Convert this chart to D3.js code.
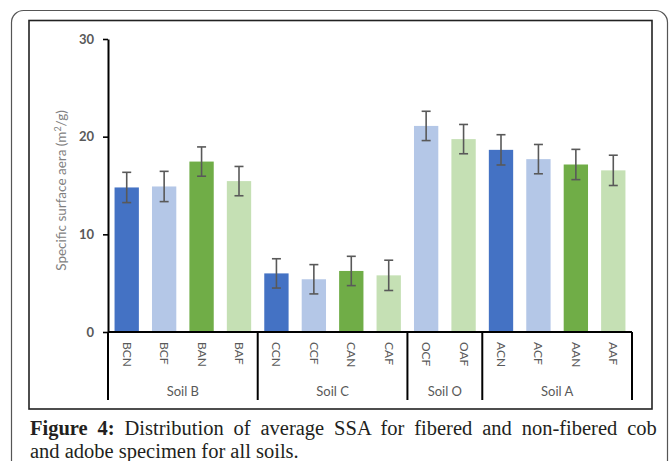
<!DOCTYPE html>
<html>
<head>
<meta charset="utf-8">
<script src="https://cdn.jsdelivr.net/npm/d3@7/dist/d3.min.js"></script>
<style>
  html, body { margin: 0; padding: 0; background: #fff; }
  svg { display: block; }
</style>
</head>
<body>
<svg id="chart" width="669" height="461"></svg>
<script>
// Specimen codes: soil letter + C/A (cob / adobe) + N/F (non-fibered / fibered)
const categories = ["BCN", "BCF", "BAN", "BAF", "CCN", "CCF", "CAN", "CAF",
                    "OCF", "OAF", "ACN", "ACF", "AAN", "AAF"];
const ssaMeans  = [14.8, 14.9, 17.45, 15.45, 6.0, 5.4, 6.25, 5.8,
                   21.1, 19.75, 18.65, 17.7, 17.15, 16.55];
const ssaErrors = [1.55, 1.55, 1.5, 1.5, 1.5, 1.5, 1.5, 1.55,
                   1.5, 1.5, 1.55, 1.5, 1.55, 1.55];
const groupNames = ["Soil B", "Soil C", "Soil O", "Soil A"];
const groupSizes = [4, 4, 2, 4];
const yTicks = [0, 10, 20, 30];

const typeColors = {
  CN: "#4472c4",
  CF: "#b4c7e7",
  AN: "#70ad47",
  AF: "#c5e0b4"
};

const svg = d3.select("#chart");

// Outer rounded frame and inner figure box
svg.append("rect")
  .attr("x", 11.5).attr("y", 10.5)
  .attr("width", 656).attr("height", 500)
  .attr("rx", 12).attr("ry", 12)
  .attr("fill", "none").attr("stroke", "#555").attr("stroke-width", 1.2);

svg.append("rect")
  .attr("x", 29).attr("y", 20.5)
  .attr("width", 623).attr("height", 388.5)
  .attr("fill", "#fff").attr("stroke", "#222").attr("stroke-width", 1.6);

const plot = { left: 108, right: 632, top: 39, bottom: 332 };

const x = d3.scaleBand()
  .domain(categories)
  .range([plot.left, plot.right])
  .paddingInner(0.35)
  .paddingOuter(0.175);

const y = d3.scaleLinear()
  .domain([0, 30])
  .range([plot.bottom, plot.top]);

const chartFont = "Lato, 'Open Sans', 'Liberation Sans', sans-serif";

// Bars
const rows = categories.map((c, i) => ({ cat: c, v: ssaMeans[i], e: ssaErrors[i] }));

svg.append("g").selectAll("rect")
  .data(rows)
  .join("rect")
  .attr("x", d => x(d.cat))
  .attr("y", d => y(d.v))
  .attr("width", x.bandwidth())
  .attr("height", d => y(0) - y(d.v))
  .attr("fill", d => typeColors[d.cat.slice(1)]);

// Error bars
const capHalf = 4.5;
const err = svg.append("g")
  .attr("stroke", "#595959")
  .attr("stroke-width", 1.6)
  .attr("fill", "none");

rows.forEach(d => {
  const cx = x(d.cat) + x.bandwidth() / 2;
  const y1 = y(d.v + d.e), y2 = y(d.v - d.e);
  err.append("line").attr("x1", cx).attr("x2", cx).attr("y1", y1).attr("y2", y2);
  err.append("line").attr("x1", cx - capHalf).attr("x2", cx + capHalf).attr("y1", y1).attr("y2", y1);
  err.append("line").attr("x1", cx - capHalf).attr("x2", cx + capHalf).attr("y1", y2).attr("y2", y2);
});

// Y axis
const yAxis = d3.axisLeft(y)
  .tickValues(yTicks)
  .tickSize(5)
  .tickSizeOuter(0)
  .tickPadding(9);

const yg = svg.append("g")
  .attr("transform", `translate(${plot.left},0)`)
  .call(yAxis);
yg.select(".domain").attr("stroke", "#000").attr("stroke-width", 2);
yg.selectAll(".tick line").attr("stroke", "#000").attr("stroke-width", 1.6);
yg.selectAll(".tick text")
  .attr("fill", "#595959")
  .style("font-family", chartFont)
  .style("font-size", "13px")
  .style("font-weight", "bold");

// Y axis title
svg.append("text")
  .attr("transform", `translate(66,${(plot.top + plot.bottom) / 2 + 5}) rotate(-90)`)
  .attr("text-anchor", "middle")
  .attr("fill", "#7f7f7f")
  .style("font-family", chartFont)
  .style("font-size", "13.5px")
  .html("Specific surface aera (m<tspan dy='-5' font-size='9px'>2</tspan><tspan dy='5'>/g)</tspan>");

// X axis baseline
svg.append("line")
  .attr("x1", plot.left).attr("x2", plot.right)
  .attr("y1", y(0)).attr("y2", y(0))
  .attr("stroke", "#000").attr("stroke-width", 2);

// Category labels, rotated to read top-to-bottom
svg.append("g").selectAll("text")
  .data(categories)
  .join("text")
  .attr("transform", d => `translate(${x(d) + x.bandwidth() / 2 - 4},${y(0) + 10}) rotate(90)`)
  .attr("text-anchor", "start")
  .attr("fill", "#595959")
  .style("font-family", chartFont)
  .style("font-size", "12px")
  .text(d => d);

// Group separators and group names
const step = x.step();
const half = (step - x.bandwidth()) / 2;
let start = 0;
const sepY2 = 400;
const sep = svg.append("g").attr("stroke", "#000").attr("stroke-width", 2);
sep.append("line")
  .attr("x1", plot.left).attr("x2", plot.left)
  .attr("y1", y(0)).attr("y2", sepY2);

groupNames.forEach((name, gi) => {
  const first = categories[start];
  const last = categories[start + groupSizes[gi] - 1];
  const x0 = x(first) - half;
  const x1 = x(last) + x.bandwidth() + half;
  sep.append("line")
    .attr("x1", x1).attr("x2", x1)
    .attr("y1", y(0)).attr("y2", sepY2);
  svg.append("text")
    .attr("x", (x0 + x1) / 2)
    .attr("y", 396)
    .attr("text-anchor", "middle")
    .attr("fill", "#595959")
    .style("font-family", chartFont)
    .style("font-size", "13px")
    .text(name);
  start += groupSizes[gi];
});

// Figure caption, first line justified to the box width
const capFont = "'Liberation Serif', 'DejaVu Serif', serif";
const line1 = svg.append("text")
  .attr("x", 30).attr("y", 435)
  .attr("fill", "#231f20")
  .style("font-family", capFont)
  .style("font-size", "20.5px");
line1.append("tspan").attr("font-weight", "bold").text("Figure 4:");
line1.append("tspan").text(" Distribution of average SSA for fibered and non-fibered cob");

const targetW = 622;
const natural = line1.node().getComputedTextLength();
const spaces = 9;
line1.attr("word-spacing", (targetW - natural) / spaces);

svg.append("text")
  .attr("x", 30).attr("y", 458)
  .attr("fill", "#231f20")
  .style("font-family", capFont)
  .style("font-size", "20.5px")
  .text("and adobe specimen for all soils.");
</script>
</body>
</html>
